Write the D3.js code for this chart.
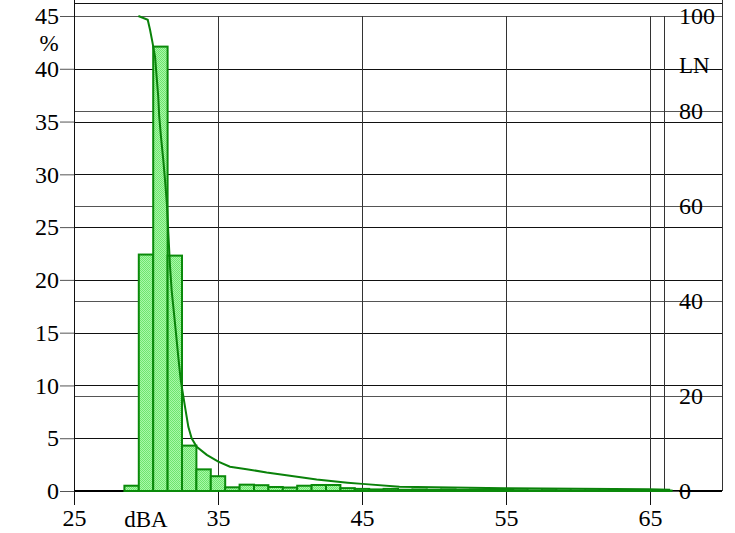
<!DOCTYPE html>
<html>
<head>
<meta charset="utf-8">
<script src="https://cdn.jsdelivr.net/npm/d3@7"></script>
<style>
  body { margin: 0; background: #fff; }
  svg { display: block; font-family: "Liberation Serif", "Times New Roman", serif; }
</style>
</head>
<body>
<svg id="chart"></svg>
<script>
// histogram: 1 dB bins centred on these levels, % of time in each bin
const levels = d3.range(29, 67);
const percent = [0.5, 22.4, 42.1, 22.3, 4.3, 2.05, 1.4, 0.35, 0.6, 0.55,
  0.38, 0.33, 0.5, 0.57, 0.57, 0.27, 0.2, 0.15, 0.2, 0.12,
  0.15, 0.12, 0.15, 0.1, 0.12, 0.1, 0.1, 0.08, 0.06, 0.08,
  0.06, 0.05, 0.06, 0.05, 0.05, 0.04, 0.05, 0.04];

// LN curve (% of time level is exceeded)
const lnLevel = [29.47, 30.12, 30.28, 30.44, 30.63, 30.74, 30.85, 30.92, 31.04, 31.2,
  31.32, 31.45, 31.55, 31.67, 31.78, 31.94, 32.08, 32.24, 32.41, 32.52,
  32.71, 32.94, 33.17, 33.52, 34.22, 35.02, 35.83, 36.99, 38.38, 40.0,
  41.85, 44.0, 45.02, 47.6, 54.9, 64.9, 66.4];
const lnValue = [100, 99.2, 97.1, 94.6, 91.4, 87.2, 83.0, 78.8, 74.6, 69.7,
  65.5, 60.5, 54.3, 47.2, 42.3, 37.5, 33.3, 28.3, 23.4, 21.3,
  17.7, 13.5, 11.1, 9.3, 7.6, 6.2, 5.1, 4.6, 3.9, 3.2,
  2.4, 1.75, 1.5, 0.9, 0.57, 0.36, 0.25];

const leftTicks = [0, 5, 10, 15, 20, 25, 30, 35, 40, 45];
const rightTicks = [0, 20, 40, 60, 80, 100];
const xTicks = [25, 35, 45, 55, 65];
const markerLevel = 66;

const width = 735, height = 533;
const pLeft = 74, pRight = 722, pTop = 16, pBottom = 491;
const tickFont = 24, labelFont = 23;

const svg = d3.select("#chart").attr("width", width).attr("height", height);

const x = d3.scaleLinear().domain([25, 70]).range([pLeft, pRight]);
const y = d3.scaleLinear().domain([0, 45]).range([pBottom, pTop]);
const yLn = d3.scaleLinear().domain([0, 100]).range([pBottom, pTop]);

// dithered light green fill
const pat = svg.append("defs").append("pattern")
  .attr("id", "dither").attr("width", 2).attr("height", 2)
  .attr("patternUnits", "userSpaceOnUse");
pat.append("rect").attr("width", 2).attr("height", 2).attr("fill", "#a8f8a8");
pat.append("rect").attr("width", 1).attr("height", 1).attr("fill", "#6ee46e");
pat.append("rect").attr("x", 1).attr("y", 1).attr("width", 1).attr("height", 1).attr("fill", "#6ee46e");

const px = v => Math.round(v) + 0.5;

// horizontal grid
svg.append("g").selectAll("line").data(leftTicks).join("line")
  .attr("x1", pLeft).attr("x2", pRight)
  .attr("y1", d => px(y(d))).attr("y2", d => px(y(d)))
  .attr("stroke", "#111");
svg.append("g").selectAll("line").data(rightTicks).join("line")
  .attr("x1", pLeft).attr("x2", pRight)
  .attr("y1", d => px(yLn(d))).attr("y2", d => px(yLn(d)))
  .attr("stroke", "#555");

// vertical grid
svg.append("g").selectAll("line").data(xTicks.slice(1).concat([markerLevel])).join("line")
  .attr("x1", d => px(x(d))).attr("x2", d => px(x(d)))
  .attr("y1", pTop).attr("y2", pBottom)
  .attr("stroke", "#333");

// frame
svg.append("line").attr("x1", pLeft).attr("x2", pRight).attr("y1", 3.5).attr("y2", 3.5).attr("stroke", "#111");
svg.append("line").attr("x1", px(pLeft)).attr("x2", px(pLeft)).attr("y1", 0).attr("y2", pBottom + 14).attr("stroke", "#111");
svg.append("line").attr("x1", px(pRight)).attr("x2", px(pRight)).attr("y1", 0).attr("y2", pBottom).attr("stroke", "#333");
svg.append("line").attr("x1", pLeft).attr("x2", pRight).attr("y1", pBottom).attr("y2", pBottom)
  .attr("stroke", "#000").attr("stroke-width", 2);

// axes
function styleAxis(g) {
  g.attr("font-family", null).attr("font-size", tickFont);
  g.select(".domain").remove();
  g.selectAll(".tick text").attr("fill", "#000");
  g.selectAll(".tick line").attr("stroke", "#555");
}
svg.append("g").attr("transform", `translate(${pLeft},0)`)
  .call(d3.axisLeft(y).tickValues(leftTicks).tickSize(14).tickPadding(1))
  .call(styleAxis);
svg.append("g").attr("transform", "translate(665,0)")
  .call(d3.axisRight(yLn).tickValues(rightTicks).tickSize(14).tickPadding(0))
  .call(styleAxis);
svg.append("g").attr("transform", `translate(0,${pBottom})`)
  .call(d3.axisBottom(x).tickValues(xTicks).tickSize(14).tickPadding(4))
  .call(styleAxis)
  .call(g => g.selectAll(".tick line").attr("stroke", "#111"));

// bars
svg.append("g").selectAll("rect").data(levels).join("rect")
  .attr("x", d => x(d - 0.5))
  .attr("width", d => x(d + 0.5) - x(d - 0.5))
  .attr("y", (d, i) => y(percent[i]))
  .attr("height", (d, i) => pBottom - y(percent[i]))
  .attr("fill", "url(#dither)")
  .attr("stroke", "#0a8a0a").attr("stroke-width", 2);

// LN curve
const line = d3.line().x(d => x(d[0])).y(d => yLn(d[1]));
svg.append("path")
  .datum(lnLevel.map((d, i) => [d, lnValue[i]]))
  .attr("d", line)
  .attr("fill", "none").attr("stroke", "#0a820a").attr("stroke-width", 2);

// labels
svg.append("text").attr("x", 49).attr("y", 43).attr("dy", "0.35em")
  .attr("text-anchor", "middle").attr("font-size", labelFont).attr("fill", "#000").text("%");
svg.append("text").attr("x", 679).attr("y", 65).attr("dy", "0.35em")
  .attr("font-size", labelFont).attr("fill", "#000").text("LN");
svg.append("text").attr("x", 146).attr("y", 527)
  .attr("text-anchor", "middle").attr("font-size", labelFont).attr("fill", "#000").text("dBA");
</script>
</body>
</html>
